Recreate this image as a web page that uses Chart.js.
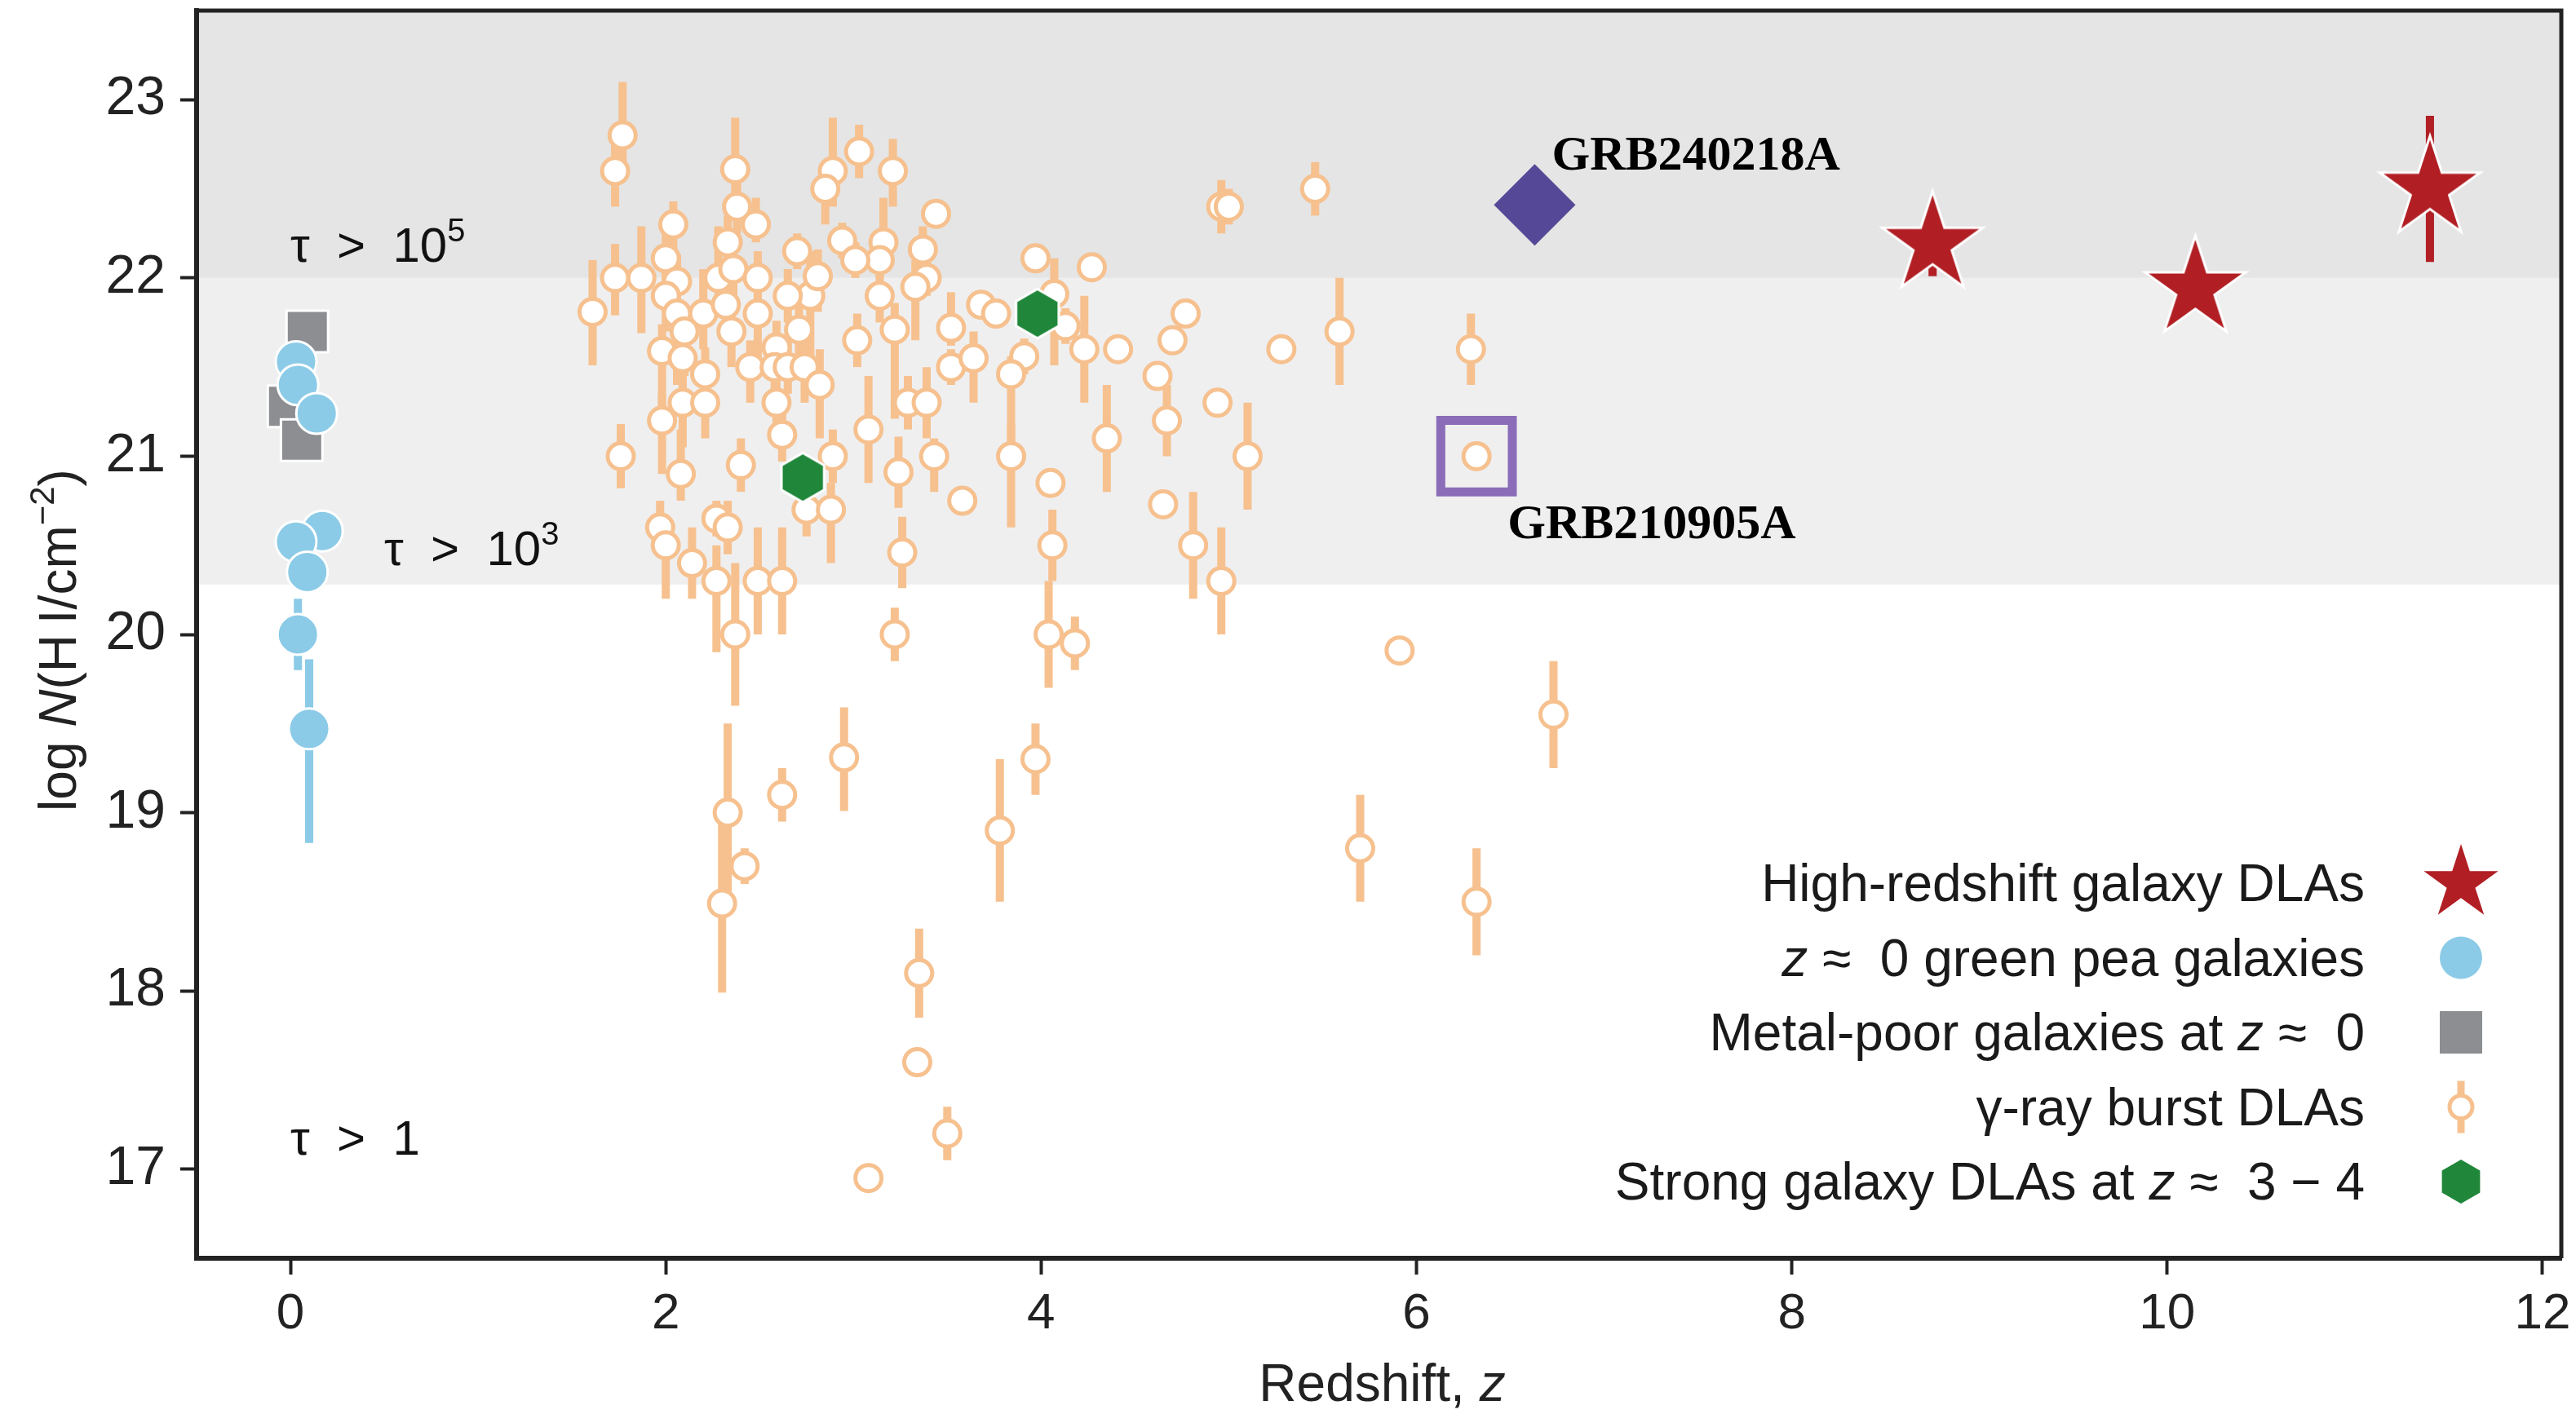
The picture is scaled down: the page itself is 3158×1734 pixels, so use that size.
<!DOCTYPE html>
<html><head><meta charset="utf-8">
<script src="https://cdn.jsdelivr.net/npm/chart.js@4/dist/chart.umd.min.js"></script>
<style>html,body{margin:0;padding:0;background:#fff;}canvas{display:block;}</style>
</head><body>
<canvas id="c" width="3158" height="1734"></canvas>
<script>
// ---------------- DATA ----------------
const xTicks = [0, 2, 4, 6, 8, 10, 12];
const yTicks = [17, 18, 19, 20, 21, 22, 23];
const bandEdges = [20.28, 22.0];

// gamma-ray burst DLAs
const grbZ = [1.77,1.73,2.37,2.38,2.48,2.33,2.04,2.00,1.73,1.87,1.61,2.06,2.00,2.06,2.20,2.28,2.36,2.32,2.49,2.35,2.49,2.10,1.98,2.09,2.21,2.09,2.21,1.98,2.45,2.59,2.58,2.65,2.74,2.59,2.62,2.82,2.71,2.77,2.65,2.70,2.81,2.89,2.85,2.94,1.76,2.89,
3.03,3.21,3.44,3.16,3.14,3.01,3.37,3.39,3.33,3.14,3.22,3.02,3.52,3.68,3.76,3.97,4.27,4.07,4.13,4.23,4.41,3.52,3.64,3.91,3.84,3.29,3.39,3.08,4.35,
2.08,2.40,2.75,2.88,1.97,2.00,2.14,2.27,2.33,2.27,2.49,2.62,2.37,2.95,
3.24,3.43,3.58,3.84,4.05,3.26,4.06,3.22,4.04,4.18,3.97,
2.33,2.42,2.30,2.62,3.78,3.35,3.34,3.50,3.08,
4.96,5.00,5.46,4.77,4.70,4.62,5.28,5.59,6.29,6.32,4.94,4.67,5.10,4.65,4.81,4.96,
5.91,6.73,5.70,6.32];
const grbN = [22.80,22.60,22.61,22.40,22.30,22.20,22.30,22.11,22.00,22.00,21.81,21.98,21.90,21.80,21.80,22.00,22.05,21.85,22.00,21.70,21.80,21.70,21.59,21.55,21.46,21.30,21.30,21.20,21.50,21.61,21.50,21.50,21.50,21.30,21.12,21.40,21.71,21.90,21.90,22.15,22.01,22.60,22.50,22.21,21.00,21.00,
22.71,22.60,22.36,22.20,22.10,22.10,22.16,22.00,21.95,21.90,21.71,21.65,21.72,21.85,21.80,22.11,22.06,21.91,21.73,21.60,21.60,21.50,21.55,21.56,21.46,21.30,21.30,21.15,21.10,
20.90,20.95,20.70,20.70,20.60,20.50,20.40,20.65,20.60,20.30,20.30,20.30,20.00,19.31,
20.91,21.00,20.75,21.00,20.85,20.46,20.50,20.00,20.00,19.95,19.30,
19.00,18.70,18.49,19.10,18.90,18.10,17.60,17.20,16.95,
22.40,22.40,22.50,21.80,21.65,21.45,21.60,21.70,21.60,21.00,21.30,21.20,21.00,20.73,20.50,20.30,
19.91,19.55,18.80,18.50];
const grbErrUp = [0.30,0.20,0.29,0.15,0.15,0.15,0.13,0.15,0.19,0.29,0.29,0.15,0.15,0.15,0.25,0.29,0.15,0.15,0.15,0.15,0.15,0.15,0.15,0.15,0.15,0.15,0.15,0.15,0.15,0.15,0.15,0.15,0.15,0.15,0.15,0.20,0.15,0.25,0.15,0.10,0.15,0.30,0.15,0.10,0.18,0.15,
0.15,0.18,0.06,0.25,0.10,0.10,0.13,0.10,0.15,0.15,0.15,0.15,0.20,0.05,0.05,0.05,0.07,0.20,0.10,0.30,0.08,0.10,0.15,0.10,0.10,0.15,0.20,0.30,0.30,
0.25,0.15,0.10,0.15,0.15,0.15,0.20,0.10,0.15,0.20,0.30,0.30,0.40,0.28,
0.20,0.10,0.06,0.18,0.06,0.20,0.20,0.15,0.30,0.15,0.20,
0.50,0.10,0.50,0.15,0.40,0.25,0.05,0.15,0,
0.15,0.10,0.15,0.05,0.05,0.05,0,0.30,0.20,0,0.05,0.20,0.30,0,0.30,0.30,
0,0.30,0.30,0.30];
const grbErrDn = [0.20,0.20,0.20,0.15,0.10,0.15,0.15,0.15,0.21,0.31,0.30,0.15,0.20,0.40,0.20,0.20,0.15,0.20,0.15,0.20,0.25,0.25,0.45,0.25,0.20,0.25,0.20,0.30,0.20,0.15,0.15,0.15,0.20,0.15,0.15,0.30,0.20,0.40,0.15,0.10,0.20,0.20,0.20,0.10,0.18,0.15,
0.15,0.20,0.06,0.15,0.10,0.10,0.10,0.10,0.30,0.15,0.50,0.15,0.10,0.05,0.05,0.05,0.07,0.40,0.10,0.30,0.08,0.10,0.25,0.10,0.40,0.15,0.20,0.30,0.30,
0.15,0.15,0.15,0.30,0.15,0.30,0.20,0.10,0.15,0.40,0.30,0.30,0.40,0.30,
0.20,0.20,0.06,0.40,0.06,0.20,0.20,0.15,0.30,0.15,0.20,
0.50,0.10,0.50,0.15,0.40,0.25,0.05,0.15,0,
0.15,0.10,0.15,0.05,0.05,0.05,0,0.30,0.20,0,0.05,0.20,0.30,0,0.30,0.30,
0,0.30,0.30,0.30];

// z ~ 0 green pea galaxies
const peaZ = [0.03, 0.04, 0.14, 0.17, 0.03, 0.09, 0.04, 0.10];
const peaN = [21.53, 21.40, 21.24, 20.58, 20.52, 20.35, 20.00, 19.47];
const peaErrUp = [0, 0, 0, 0, 0, 0, 0.20, 0.39];
const peaErrDn = [0, 0, 0, 0, 0, 0, 0.20, 0.64];

// metal-poor galaxies at z ~ 0
const mpZ = [0.09, -0.01, 0.06];
const mpN = [21.70, 21.28, 21.09];

// strong galaxy DLAs at z ~ 3-4
const hexZ = [3.98, 2.73];
const hexN = [21.80, 20.88];

// high-redshift galaxy DLAs
const starZ = [8.75, 10.15, 11.40];
const starN = [22.19, 21.94, 22.50];
const starErrUp = [0.18, 0, 0.41];
const starErrDn = [0.18, 0, 0.41];

// highlighted GRBs
const grbAZ = [6.63]; const grbAN = [22.41]; const grbALabel = 'GRB240218A';
const grbBZ = [6.32]; const grbBN = [21.00]; const grbBLabel = 'GRB210905A';

// optical depth annotations
const tauLabels = ['τ  >  10^5^', 'τ  >  10^3^', 'τ  >  1'];
const tauZ = [0.0, 0.50, 0.0];
const tauN = [22.09, 20.39, 17.08];

const legendLabels = ['High-redshift galaxy DLAs', '_z_ ≈  0 green pea galaxies', 'Metal-poor galaxies at _z_ ≈  0', 'γ-ray burst DLAs', 'Strong galaxy DLAs at _z_ ≈  3 − 4'];
const xTitle = 'Redshift, _z_';
const yTitle = 'log _N_(H\u2009I/cm^−2^)';

// ---------------- STYLE ----------------
const SANS = '"Liberation Sans", Arial, Helvetica, sans-serif';
const SERIF = '"Liberation Serif", "Times New Roman", serif';
const C_ORANGE = '#F6C18F', C_BLUE = '#8BCBE7', C_GRAY = '#8C8E91', C_GREEN = '#20873A',
      C_RED = '#B11F24', C_DIAMOND = '#554896', C_BOX = '#8A6CB8', C_AX = '#222222';

function makeStar(R, lw) {
  const pad = lw * 4 + 2, size = Math.ceil(2 * R + 2 * pad);
  const c = document.createElement('canvas'); c.width = c.height = size;
  const g = c.getContext('2d'), cx = size / 2, cy = size / 2;
  g.beginPath();
  for (let i = 0; i < 10; i++) {
    const r = i % 2 === 0 ? R : R * 0.382, a = -Math.PI / 2 + i * Math.PI / 5;
    g.lineTo(cx + r * Math.cos(a), cy + r * Math.sin(a));
  }
  g.closePath();
  if (lw) { g.lineWidth = lw * 2; g.strokeStyle = '#fff'; g.lineJoin = 'miter'; g.miterLimit = 10; g.stroke(); }
  g.fillStyle = C_RED; g.fill();
  return c;
}
function makeHex(R, lw) {
  const size = Math.ceil(2 * R + 4 * lw + 4);
  const c = document.createElement('canvas'); c.width = c.height = size;
  const g = c.getContext('2d'), cx = size / 2, cy = size / 2;
  g.beginPath();
  for (let i = 0; i < 6; i++) { const a = -Math.PI / 2 + i * Math.PI / 3; g.lineTo(cx + R * Math.cos(a), cy + R * Math.sin(a)); }
  g.closePath();
  g.lineWidth = lw * 2; g.strokeStyle = '#fff'; g.stroke();
  g.fillStyle = C_GREEN; g.fill();
  return c;
}
const starImg = makeStar(60, 3), starLegend = makeStar(48, 2);
const hexImg = makeHex(28.5, 3), hexLegend = makeHex(27, 2);

const pts = (xs, ys) => xs.map((x, i) => ({ x: x, y: ys[i] }));

function parseRich(str) {
  return str.split(/(_[^_]*_|\^[^^]*\^)/).filter(s => s.length).map(t =>
    t[0] === '_' ? { t: t.slice(1, -1), it: true } : t[0] === '^' ? { t: t.slice(1, -1), sup: true } : { t: t });
}
function drawRich(ctx, str, x, y, size, align, family, weight) {
  const segs = parseRich(str);
  const f = s => (s.it ? 'italic ' : '') + (weight || 'normal') + ' ' + (s.sup ? Math.round(size * 0.66) : size) + 'px ' + family;
  let total = 0;
  segs.forEach(s => { ctx.font = f(s); s.w = ctx.measureText(s.t).width; total += s.w; });
  let cx = align === 'right' ? x - total : align === 'center' ? x - total / 2 : x;
  ctx.textAlign = 'left'; ctx.textBaseline = 'alphabetic';
  segs.forEach(s => { ctx.font = f(s); ctx.fillText(s.t, cx, s.sup ? y - size * 0.42 : y); cx += s.w; });
}

const errMap = {
  'γ-ray burst DLAs': { up: grbErrUp, dn: grbErrDn, color: C_ORANGE, width: 10 },
  'z ≈ 0 green pea galaxies': { up: peaErrUp, dn: peaErrDn, color: C_BLUE, width: 10 },
  'High-redshift galaxy DLAs': { up: starErrUp, dn: starErrDn, color: C_RED, width: 10 }
};

const bandsPlugin = {
  id: 'bands',
  beforeDraw(chart) {
    const { ctx, chartArea: a, scales: { y } } = chart;
    const yLo = y.getPixelForValue(bandEdges[0]), yMid = y.getPixelForValue(bandEdges[1]), yTop = y.getPixelForValue(y.max);
    ctx.save();
    ctx.fillStyle = '#E5E5E5'; ctx.fillRect(a.left, yTop, a.width, yMid - yTop);
    ctx.fillStyle = '#EFEFF0'; ctx.fillRect(a.left, yMid, a.width, yLo - yMid);
    ctx.restore();
  }
};
const errPlugin = {
  id: 'errbars',
  beforeDatasetsDraw(chart) {
    const { ctx, chartArea: a, scales: { x, y } } = chart;
    ctx.save(); ctx.beginPath(); ctx.rect(a.left, a.top, a.width, a.height); ctx.clip();
    chart.data.datasets.forEach(ds => {
      const e = errMap[ds.label]; if (!e) return;
      ctx.strokeStyle = e.color; ctx.lineWidth = e.width; ctx.lineCap = 'butt';
      ds.data.forEach((p, i) => {
        if (!e.up[i] && !e.dn[i]) return;
        const px = x.getPixelForValue(p.x);
        ctx.beginPath(); ctx.moveTo(px, y.getPixelForValue(p.y + e.up[i])); ctx.lineTo(px, y.getPixelForValue(p.y - e.dn[i])); ctx.stroke();
      });
    });
    ctx.restore();
  }
};
const textPlugin = {
  id: 'texts',
  afterDraw(chart) {
    const { ctx, chartArea: a, scales: { x, y } } = chart;
    ctx.save();
    // frame (top & right)
    ctx.strokeStyle = C_AX; ctx.lineWidth = 5;
    ctx.beginPath(); ctx.moveTo(a.left, a.top); ctx.lineTo(a.right, a.top); ctx.lineTo(a.right, a.bottom); ctx.stroke();
    ctx.fillStyle = '#111';
    // tau labels
    tauLabels.forEach((t, i) => drawRich(ctx, t, x.getPixelForValue(tauZ[i]), y.getPixelForValue(tauN[i]), 60, 'left', SANS));
    // GRB labels
    ctx.fillStyle = '#000';
    drawRich(ctx, grbALabel, x.getPixelForValue(grbAZ[0]) + 21, y.getPixelForValue(grbAN[0]) - 43, 60, 'left', SERIF, 'bold');
    drawRich(ctx, grbBLabel, x.getPixelForValue(grbBZ[0]) + 38, y.getPixelForValue(grbBN[0]) + 101, 60, 'left', SERIF, 'bold');
    // axis titles
    ctx.fillStyle = '#222';
    drawRich(ctx, xTitle, (a.left + a.right) / 2 + 4, a.bottom + 175, 64, 'center', SANS);
    ctx.translate(93, (a.top + a.bottom) / 2 + 7); ctx.rotate(-Math.PI / 2);
    drawRich(ctx, yTitle, 0, 0, 64, 'center', SANS);
    ctx.restore();
    // legend
    ctx.save();
    ctx.fillStyle = '#1a1a1a';
    const tx = a.right - 241, mx = a.right - 123, base0 = a.bottom - 438, step = 91.5;
    legendLabels.forEach((t, i) => drawRich(ctx, t, tx, base0 + i * step, 64, 'right', SANS));
    const my = i => base0 + i * step - 22;
    ctx.drawImage(starLegend, mx - starLegend.width / 2, my(0) - starLegend.height / 2);
    ctx.beginPath(); ctx.arc(mx, my(1), 26, 0, 2 * Math.PI); ctx.fillStyle = C_BLUE; ctx.fill();
    ctx.fillStyle = C_GRAY; ctx.fillRect(mx - 26, my(2) - 26, 52, 52);
    ctx.strokeStyle = C_ORANGE; ctx.lineWidth = 9;
    ctx.beginPath(); ctx.moveTo(mx, my(3) - 32); ctx.lineTo(mx, my(3) + 32); ctx.stroke();
    ctx.beginPath(); ctx.arc(mx, my(3), 14, 0, 2 * Math.PI); ctx.fillStyle = '#fff'; ctx.fill(); ctx.lineWidth = 5; ctx.stroke();
    ctx.drawImage(hexLegend, mx - hexLegend.width / 2, my(4) - hexLegend.height / 2);
    ctx.restore();
  }
};

new Chart(document.getElementById('c'), {
  type: 'scatter',
  data: {
    datasets: [
      { label: 'High-redshift galaxy DLAs', data: pts(starZ, starN), pointStyle: starImg, order: 0 },
      { label: grbALabel, data: pts(grbAZ, grbAN), pointStyle: 'rectRot', pointRadius: 50, backgroundColor: C_DIAMOND, borderWidth: 0, order: 1 },
      { label: grbBLabel, data: pts(grbBZ, grbBN), pointStyle: 'rect', pointRadius: 62, backgroundColor: 'rgba(0,0,0,0)', borderColor: C_BOX, borderWidth: 11, order: 2 },
      { label: 'Strong galaxy DLAs at z ≈ 3 − 4', data: pts(hexZ, hexN), pointStyle: hexImg, order: 3 },
      { label: 'γ-ray burst DLAs', data: pts(grbZ, grbN), pointStyle: 'circle', pointRadius: 16, backgroundColor: '#ffffff', borderColor: C_ORANGE, borderWidth: 5, order: 4 },
      { label: 'z ≈ 0 green pea galaxies', data: pts(peaZ, peaN), pointStyle: 'circle', pointRadius: 25, backgroundColor: C_BLUE, borderColor: '#ffffff', borderWidth: 3, order: 5 },
      { label: 'Metal-poor galaxies at z ≈ 0', data: pts(mpZ, mpN), pointStyle: 'rect', pointRadius: 36, backgroundColor: C_GRAY, borderColor: '#ffffff', borderWidth: 3, order: 6 }
    ]
  },
  options: {
    responsive: false, animation: false, devicePixelRatio: 1, events: [],
    layout: { autoPadding: false, padding: { top: 13, right: 18, left: 0, bottom: 0 } },
    plugins: { legend: { display: false }, tooltip: { enabled: false } },
    scales: {
      x: {
        type: 'linear', min: -0.5, max: 12.1,
        afterBuildTicks: s => { s.ticks = xTicks.map(v => ({ value: v })); },
        afterFit: s => { s.height = 191; s.paddingLeft = 0; s.paddingRight = 0; },
        ticks: { font: { family: SANS, size: 62 }, color: '#222', padding: 12, maxRotation: 0, autoSkip: false },
        grid: { display: true, drawOnChartArea: false, drawTicks: true, tickLength: 20, tickWidth: 4, tickColor: C_AX },
        border: { display: true, color: C_AX, width: 6 }
      },
      y: {
        type: 'linear', min: 16.5, max: 23.5,
        afterBuildTicks: s => { s.ticks = yTicks.map(v => ({ value: v })); },
        afterFit: s => { s.width = 241; s.paddingTop = 0; s.paddingBottom = 0; },
        ticks: { font: { family: SANS, size: 66 }, color: '#222', padding: 18, autoSkip: false },
        grid: { display: true, drawOnChartArea: false, drawTicks: true, tickLength: 20, tickWidth: 4, tickColor: C_AX },
        border: { display: true, color: C_AX, width: 6 }
      }
    }
  },
  plugins: [bandsPlugin, errPlugin, textPlugin]
});
</script>
</body></html>
